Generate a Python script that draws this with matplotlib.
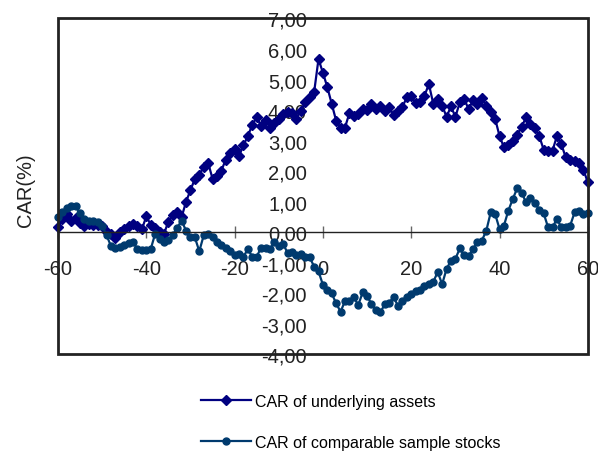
import matplotlib.pyplot as plt
from matplotlib.patches import Rectangle

plt.rcParams['font.family'] = ['Liberation Sans', 'DejaVu Sans']
plt.rcParams['axes.unicode_minus'] = False

# event window days -60 .. 60
days = list(range(-60, 61))

car_underlying = [
    0.18, 0.42, 0.60, 0.38, 0.48, 0.30, 0.22, 0.28, 0.25, 0.25,
    0.20, 0.00, -0.05, -0.18, 0.00, 0.12, 0.22, 0.28, 0.20, 0.10,
    0.52, 0.25, 0.15, 0.02, -0.05, 0.35, 0.55, 0.65, 0.50, 1.00,
    1.38, 1.75, 1.88, 2.15, 2.28, 1.75, 1.85, 2.02, 2.38, 2.60,
    2.72, 2.50, 2.85, 3.15, 3.52, 3.77, 3.48, 3.68, 3.43, 3.58,
    3.72, 3.88, 3.95, 3.90, 3.72, 3.98, 4.25, 4.42, 4.58, 5.67,
    5.22, 4.75, 4.20, 3.65, 3.43, 3.43, 3.90, 3.82, 3.87, 4.05,
    4.00, 4.20, 4.05, 4.12, 3.98, 4.09, 3.85, 3.98, 4.10, 4.42,
    4.47, 4.22, 4.25, 4.47, 4.85, 4.20, 4.35, 4.15, 3.78, 4.12,
    3.78, 4.25, 4.36, 4.03, 4.33, 4.20, 4.40, 4.15, 3.95, 3.72,
    3.15, 2.78, 2.85, 3.00, 3.20, 3.45, 3.76, 3.55, 3.40, 3.15,
    2.70, 2.67, 2.67, 3.15, 2.88, 2.45, 2.38, 2.33, 2.28, 2.05,
    1.63,
]

car_comparable = [
    0.49, 0.66, 0.80, 0.85, 0.86, 0.62, 0.45, 0.38, 0.36, 0.33,
    0.22, -0.10, -0.45, -0.52, -0.47, -0.40, -0.36, -0.32, -0.55, -0.57,
    -0.57, -0.55, -0.05, -0.22, -0.33, -0.25, -0.10, 0.15, 0.38, 0.05,
    -0.15, -0.17, -0.62, -0.10, -0.05, -0.15, -0.32, -0.43, -0.50, -0.62,
    -0.75, -0.72, -0.80, -0.55, -0.80, -0.80, -0.50, -0.50, -0.55, -0.33,
    -0.45, -0.38, -0.68, -0.65, -0.75, -0.72, -0.80, -0.82, -1.12, -1.28,
    -1.72, -1.88, -2.00, -2.33, -2.60, -2.25, -2.24, -2.13, -2.38, -1.97,
    -2.08, -2.35, -2.55, -2.62, -2.36, -2.30, -2.13, -2.40, -2.24, -2.13,
    -2.02, -1.92, -1.90, -1.75, -1.68, -1.62, -1.30, -1.70, -1.20, -0.93,
    -0.87, -0.53, -0.75, -0.77, -0.55, -0.33, -0.27, 0.05, 0.65, 0.60,
    0.11, 0.22, 0.71, 1.09, 1.44, 1.30, 0.98, 1.11, 0.96, 0.74,
    0.62, 0.16, 0.16, 0.44, 0.16, 0.17, 0.22, 0.65, 0.69, 0.60,
    0.63,
]

x_ticks = [-60, -40, -20, 0, 20, 40, 60]
y_ticks = [-4, -3, -2, -1, 0, 1, 2, 3, 4, 5, 6, 7]
y_labels = ["-4,00", "-3,00", "-2,00", "-1,00", "0,00", "1,00",
            "2,00", "3,00", "4,00", "5,00", "6,00", "7,00"]

fig = plt.figure(figsize=(5.98, 4.52), dpi=100)
ax = fig.add_axes([0.097, 0.2135, 0.886, 0.7435])

ax.plot(days, car_underlying, color='#000080', marker='D', markersize=5,
        linewidth=1.6, label='CAR of underlying assets', clip_on=False)
ax.plot(days, car_comparable, color='#003a6e', marker='o', markersize=5,
        linewidth=1.6, label='CAR of comparable sample stocks', clip_on=False)

ax.set_xlim(-60, 60)
ax.set_ylim(-4, 7)

# axes cross at zero, frame drawn around plot area
ax.spines['bottom'].set_position(('data', 0))
ax.spines['bottom'].set_color('#222222')
ax.spines['bottom'].set_linewidth(1)
ax.spines['left'].set_position(('data', 0))
ax.spines['left'].set_visible(False)
ax.spines['top'].set_visible(False)
ax.spines['right'].set_visible(False)
ax.add_patch(Rectangle((0, 0), 1, 1, transform=ax.transAxes, fill=False,
                       linewidth=2, edgecolor='#222222', clip_on=False, zorder=5))

ax.set_xticks(x_ticks)
ax.set_yticks(y_ticks)
ax.set_yticklabels(y_labels)
ax.tick_params(axis='x', direction='inout', length=9, width=1, color='#666666',
               pad=15, labelsize=14.5, labelcolor='#222222')
ax.tick_params(axis='y', length=0, pad=11.5, labelsize=14.5, labelcolor='#222222')

fig.text(25 / 598, 1 - 190 / 452, 'CAR(%)', rotation=90, ha='center', va='center',
         fontsize=14.5, color='#222222')

fig.legend(loc='upper left', bbox_to_anchor=(201 / 598, 1 - 395 / 452),
           frameon=False, fontsize=11.5, handlelength=3.1, handletextpad=0.25,
           labelspacing=1.6, borderpad=0, borderaxespad=0)

fig.savefig('out.png', dpi=100)
